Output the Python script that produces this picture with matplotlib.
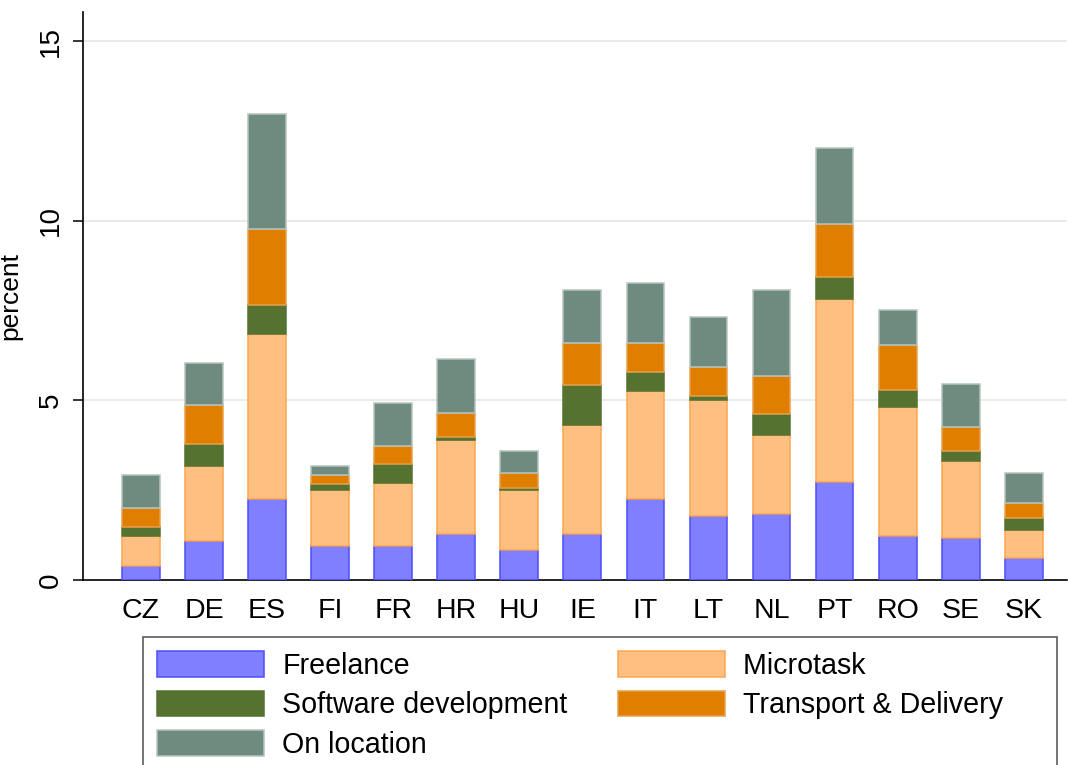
import matplotlib.pyplot as plt
import numpy as np

plt.rcParams['font.family'] = ['Liberation Sans', 'DejaVu Sans']

# Länder und Anteile (Prozent) je Plattform-Typ
countries = ["CZ", "DE", "ES", "FI", "FR", "HR", "HU", "IE", "IT", "LT", "NL", "PT", "RO", "SE", "SK"]
freelance = [0.38, 1.09, 2.26, 0.94, 0.94, 1.29, 0.83, 1.29, 2.25, 1.79, 1.84, 2.72, 1.23, 1.18, 0.62]
microtask = [0.85, 2.08, 4.58, 1.57, 1.77, 2.60, 1.68, 3.02, 3.02, 3.23, 2.20, 5.09, 3.58, 2.13, 0.77]
software = [0.25, 0.62, 0.82, 0.15, 0.52, 0.10, 0.05, 1.12, 0.51, 0.09, 0.57, 0.62, 0.47, 0.27, 0.35]
transport = [0.52, 1.08, 2.11, 0.26, 0.50, 0.67, 0.42, 1.17, 0.82, 0.83, 1.06, 1.49, 1.27, 0.68, 0.41]
on_location = [0.93, 1.17, 3.21, 0.26, 1.19, 1.48, 0.61, 1.48, 1.68, 1.38, 2.41, 2.10, 0.97, 1.21, 0.84]

series = [
    ("Freelance", freelance, "#7f7fff", "#4d4dff"),
    ("Microtask", microtask, "#ffbf80", "#ffa54f"),
    ("Software development", software, "#557230", "#557230"),
    ("Transport & Delivery", transport, "#e07e00", "#e9a04a"),
    ("On location", on_location, "#6f8b7f", "#b5c4bd"),
]

fig = plt.figure(figsize=(10.68, 7.65), dpi=100)
ax = fig.add_axes([0.0777, 0.2418, 0.921, 0.7425])

x = np.arange(len(countries))
bottom = np.zeros(len(countries))
handles = []
for name, vals, fc, ec in series:
    vals = np.array(vals)
    b = ax.bar(x, vals, width=0.6, bottom=bottom, color=fc, edgecolor=ec,
               linewidth=1.1, label=name, zorder=3)
    handles.append(b)
    bottom += vals

ax.set_xlim(-0.92, len(countries) - 1 + 0.68)
ax.set_ylim(0, 15.81)
ax.set_yticks([0, 5, 10, 15])
ax.set_yticklabels(["0", "5", "10", "15"], rotation=90, va="center")
ax.set_xticks(x)
ax.set_xticklabels(countries)
ax.tick_params(axis="y", labelsize=20, length=7, width=1.1, pad=7)
ax.tick_params(axis="x", labelsize=20.5, length=0, pad=13)
ax.set_ylabel("percent", fontsize=19, labelpad=11)

for yv in [5, 10, 15]:
    ax.axhline(yv, color="#e8e8e8", linewidth=1.3, zorder=1)

for s in ["top", "right"]:
    ax.spines[s].set_visible(False)
for s in ["left", "bottom"]:
    ax.spines[s].set_linewidth(1.2)
    ax.spines[s].set_color("black")

# Reihenfolge zeilenweise wie im Original; Leerzeichen schieben Spalte 2 nach links
order = [0, 2, 4, 1, 3]
labels = [series[i][0] for i in order]
labels[4] = labels[4] + "     "
labels[3] = labels[3] + "     "
leg = fig.legend([handles[i] for i in order], labels, loc="upper left",
                 bbox_to_anchor=(143 / 1068, 1 - 637 / 765, 914 / 1068, 0),
                 mode="expand", ncol=2, fontsize=20.6, frameon=True, fancybox=False,
                 handlelength=3.74, handleheight=0.98, handletextpad=0.63,
                 labelspacing=0.39, columnspacing=1.5, borderpad=0.5,
                 borderaxespad=0)
leg.get_frame().set_edgecolor("#333333")
leg.get_frame().set_linewidth(1.2)

fig.savefig("out.png", dpi=100)
